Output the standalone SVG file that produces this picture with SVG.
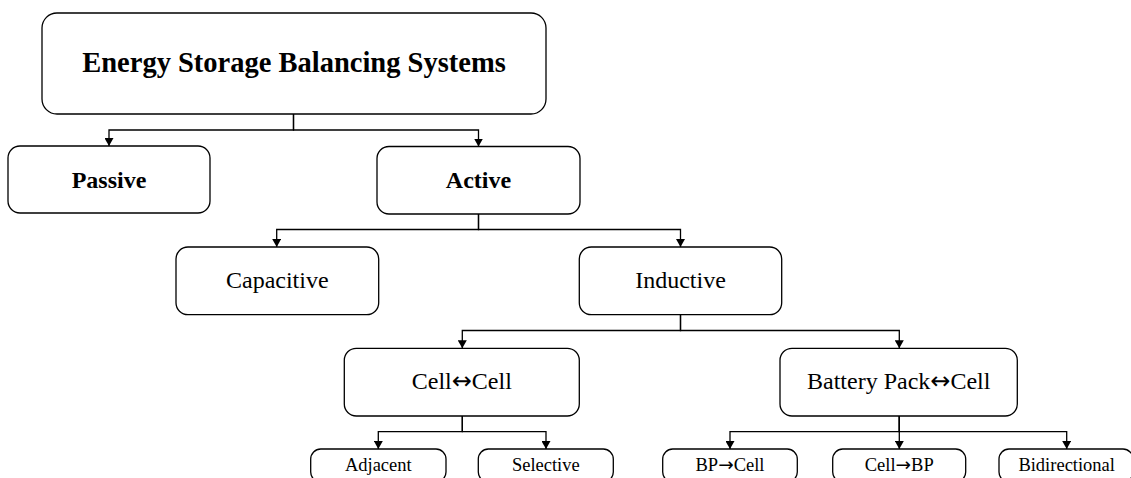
<svg xmlns="http://www.w3.org/2000/svg" width="1131" height="478" viewBox="0 0 1131 478">
<style>
.box{fill:#fff;stroke:#000;stroke-width:1.3}
.t{font-family:"Liberation Serif","Times New Roman",serif;text-anchor:middle;fill:#000}
.b{font-weight:bold}
.ar{font-family:"DejaVu Sans",sans-serif}
.e{fill:none;stroke:#000;stroke-width:1.3;marker-end:url(#ah)}
</style>
<defs>
<marker id="ah" viewBox="0 0 8 9" refX="8" refY="4.5" markerWidth="8" markerHeight="9" markerUnits="userSpaceOnUse" orient="auto">
<path d="M0,0 L8,4.5 L0,9 z" fill="#000"/>
</marker>
</defs>
<rect width="1131" height="478" fill="#fff"/>
<g id="connectors">
<path class="e" d="M293.5,114 V130 H109 V146"/>
<path class="e" d="M293.5,114 V130 H478.5 V146.5"/>
<path class="e" d="M478.5,214 V229.5 H276.7 V247"/>
<path class="e" d="M478.5,214 V229.5 H680.5 V247"/>
<path class="e" d="M680.5,314.7 V330.5 H462.3 V348.3"/>
<path class="e" d="M680.5,314.7 V330.5 H899.3 V348.3"/>
<path class="e" d="M462.3,416 V431.7 H378.3 V449"/>
<path class="e" d="M462.3,416 V431.7 H546 V449"/>
<path class="e" d="M899.3,416 V431.7 H730 V449"/>
<path class="e" d="M899.3,416 V449"/>
<path class="e" d="M899.3,416 V431.7 H1066.7 V449"/>
</g>
<g id="root">
<rect class="box" x="42" y="13" width="504" height="101" rx="15"/>
<text class="t b" x="294" y="72" font-size="28.5">Energy Storage Balancing Systems</text>
</g>
<g id="passive">
<rect class="box" x="8" y="146" width="202" height="67" rx="12"/>
<text class="t b" x="109" y="188.3" font-size="24">Passive</text>
</g>
<g id="active">
<rect class="box" x="377" y="146.5" width="203" height="67.5" rx="12"/>
<text class="t b" x="478.5" y="188.3" font-size="24">Active</text>
</g>
<g id="capacitive">
<rect class="box" x="176" y="247" width="202.7" height="67.7" rx="12"/>
<text class="t" x="277.3" y="288.3" font-size="24">Capacitive</text>
</g>
<g id="inductive">
<rect class="box" x="579.3" y="247" width="202.4" height="67.7" rx="12"/>
<text class="t" x="680.5" y="288.3" font-size="24">Inductive</text>
</g>
<g id="cell-cell">
<rect class="box" x="344.3" y="348.3" width="235" height="67.7" rx="12"/>
<text class="t" x="461.8" y="389" font-size="24">Cell<tspan class="ar">↔</tspan>Cell</text>
</g>
<g id="pack-cell">
<rect class="box" x="780" y="348.3" width="237.3" height="67.7" rx="12"/>
<text class="t" x="898.7" y="389" font-size="24">Battery Pack<tspan class="ar">↔</tspan>Cell</text>
</g>
<g id="adjacent">
<rect class="box" x="310.7" y="449" width="135.3" height="33" rx="10"/>
<text class="t" x="378.3" y="471" font-size="18.5">Adjacent</text>
</g>
<g id="selective">
<rect class="box" x="478.3" y="449" width="135" height="33" rx="10"/>
<text class="t" x="545.8" y="471" font-size="18.5">Selective</text>
</g>
<g id="bp-cell">
<rect class="box" x="662.7" y="449" width="134.6" height="33" rx="10"/>
<text class="t" x="730" y="471" font-size="18.5">BP<tspan class="ar">→</tspan>Cell</text>
</g>
<g id="cell-bp">
<rect class="box" x="832.7" y="449" width="133" height="33" rx="10"/>
<text class="t" x="899.2" y="471" font-size="18.5">Cell<tspan class="ar">→</tspan>BP</text>
</g>
<g id="bidirectional">
<rect class="box" x="999" y="449" width="134" height="33" rx="10"/>
<text class="t" x="1066.7" y="471" font-size="18.5">Bidirectional</text>
</g>
</svg>
